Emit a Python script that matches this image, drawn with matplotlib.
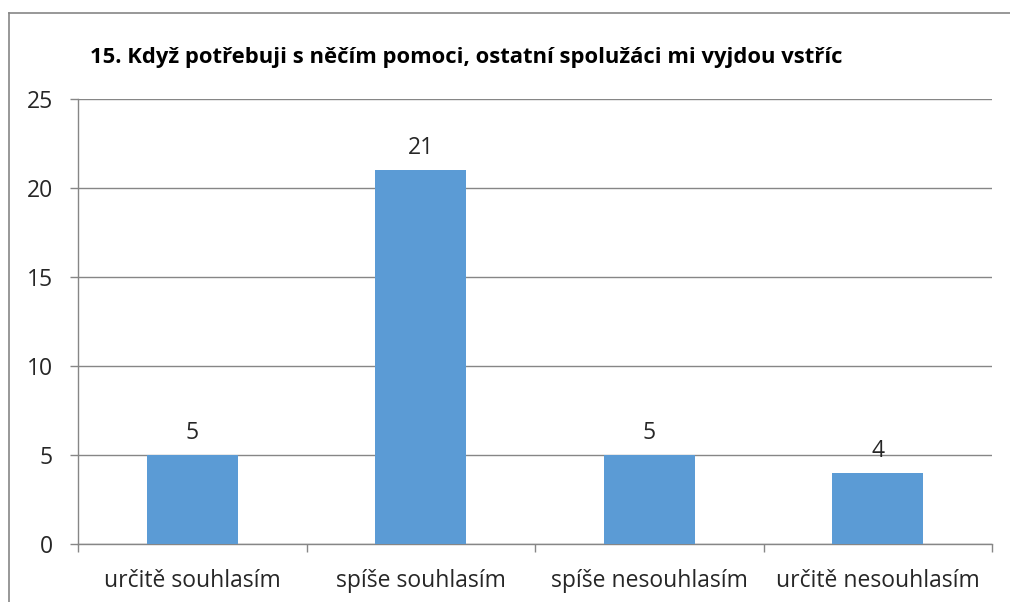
import matplotlib
matplotlib.use("Agg")
import matplotlib.pyplot as plt
from matplotlib.lines import Line2D

categories = ["určitě souhlasím", "spíše souhlasím", "spíše nesouhlasím", "určitě nesouhlasím"]
values = [5, 21, 5, 4]
yticks = [0, 5, 10, 15, 20, 25]
title = "15. Když potřebuji s něčím pomoci, ostatní spolužáci mi vyjdou vstříc"

plt.rcParams['font.family'] = ['Open Sans', 'DejaVu Sans']
gray = "#868686"
fs = 16.5
fig = plt.figure(figsize=(10.1, 6.02), dpi=100)
ax = fig.add_axes([78/1010, 1-544/602, (992-78)/1010, (544-99)/602])

x = list(range(len(categories)))
bars = ax.bar(x, values, width=0.4, color="#5B9BD5", zorder=3)
for xi, v in zip(x, values):
    ax.annotate(str(v), (xi, v), xytext=(0, 7), textcoords="offset points",
                ha="center", va="bottom", fontsize=fs, color="#262626")

ax.set_xlim(-0.5, len(categories) - 0.5)
ax.set_ylim(0, 25)
ax.set_yticks(yticks)
ax.set_yticklabels([str(t) for t in yticks], fontsize=fs, color="#262626")
ax.set_xticks(x)
ax.set_xticklabels(categories, fontsize=fs, color="#262626")
ax.set_xticks([i - 0.5 for i in range(len(categories) + 1)], minor=True)
ax.tick_params(axis="x", which="major", length=0, pad=18)
ax.tick_params(axis="x", which="minor", length=6, color=gray, width=1)
ax.tick_params(axis="y", length=6, color=gray, width=1, pad=12)
ax.yaxis.grid(True, color=gray, linewidth=1, zorder=0)
for s in ["top", "right"]:
    ax.spines[s].set_visible(False)
for s in ["left", "bottom"]:
    ax.spines[s].set_color(gray)
    ax.spines[s].set_linewidth(1)
ax.set_axisbelow(True)

fig.text(90/1010, 1-58/602, title, fontsize=15.8, fontweight="bold", ha="left", va="center", color="black")

fig.add_artist(Line2D([9/1010, 1.0], [1-13/602, 1-13/602], color=gray, linewidth=1.2, transform=fig.transFigure))
fig.add_artist(Line2D([9/1010, 9/1010], [0, 1-13/602], color=gray, linewidth=1.2, transform=fig.transFigure))

fig.savefig("out.png", dpi=100)
